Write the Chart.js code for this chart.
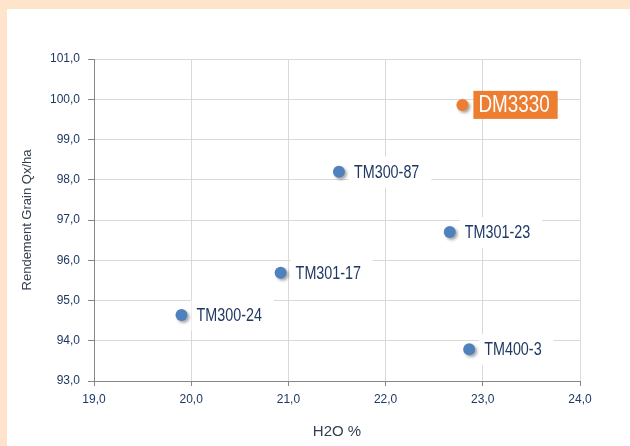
<!DOCTYPE html>
<html lang="fr">
<head>
    <title>Rendement Grain vs H2O</title>
    <meta charset="utf-8">
    <script src="https://cdn.jsdelivr.net/npm/chart.js@4.4.0/dist/chart.umd.js"></script>
    <style>
        html, body { margin: 0; padding: 0; }
        body { width: 630px; height: 446px; background: #fde4cb; position: relative; overflow: hidden; }
        #frame { position: absolute; left: 7px; top: 9px; width: 623px; height: 437px; background: #ffffff; }
    </style>
</head>

<body>
    <div id="frame">
        <canvas id="yieldChart" width="623" height="437"></canvas>
    </div>

    <script>
        // Data
        const varieties = ['TM300-24', 'TM301-17', 'TM300-87', 'TM301-23', 'TM400-3', 'DM3330'];
        const h2o = [19.9, 20.92, 21.52, 22.66, 22.86, 22.79];
        const rendement = [94.64, 95.69, 98.2, 96.7, 93.79, 99.86];
        const highlighted = 'DM3330';

        const xTicks = { min: 19, max: 24, step: 1 };
        const yTicks = { min: 93, max: 101, step: 1 };

        const navy = '#1f3864';
        const comma = v => v.toFixed(1).replace('.', ',');

        // split into normal / highlighted series
        const normal = [], special = [];
        varieties.forEach((name, i) => {
            const pt = { x: h2o[i], y: rendement[i], name: name };
            (name === highlighted ? special : normal).push(pt);
        });

        // shadow under the markers + labels next to them
        const markerDecor = {
            id: 'markerDecor',
            beforeDatasetsDraw(chart) {
                const ctx = chart.ctx;
                ctx.save();
                ctx.shadowColor = 'rgba(0,0,0,0.35)';
                ctx.shadowBlur = 3;
                ctx.shadowOffsetX = 2;
                ctx.shadowOffsetY = 2;
            },
            afterDatasetsDraw(chart) {
                const ctx = chart.ctx;
                ctx.restore();
                chart.data.datasets.forEach((ds, di) => {
                    const meta = chart.getDatasetMeta(di);
                    meta.data.forEach((el, j) => {
                        const name = ds.data[j].name;
                        const hl = name === highlighted;
                        const size = hl ? 23 : 17.5;
                        const sx = 0.82; // narrow look
                        ctx.save();
                        ctx.font = size + 'px "Liberation Sans", Arial, sans-serif';
                        const w = ctx.measureText(name).width * sx;
                        const tx = el.x + (hl ? 16 : 15);
                        const ty = el.y;
                        if (hl) {
                            ctx.fillStyle = '#ed7d31';
                            ctx.fillRect(tx - 5, ty - 14, w + 13, 28);
                        } else {
                            ctx.fillStyle = '#ffffff';
                            ctx.fillRect(tx - 5, ty - 15, w + 17, 31);
                        }
                        ctx.fillStyle = hl ? '#ffffff' : navy;
                        ctx.textBaseline = 'middle';
                        ctx.textAlign = 'left';
                        ctx.translate(tx, ty + 1);
                        ctx.scale(sx, 1);
                        ctx.fillText(name, 0, 0);
                        ctx.restore();
                    });
                });
            }
        };

        const ctx = document.getElementById('yieldChart').getContext('2d');
        new Chart(ctx, {
            type: 'scatter',
            data: {
                datasets: [
                    {
                        label: 'Variétés',
                        data: normal,
                        backgroundColor: '#4f81bd',
                        borderColor: '#4f81bd',
                        pointRadius: 6,
                        borderWidth: 0,
                    },
                    {
                        label: highlighted,
                        data: special,
                        backgroundColor: '#ed7d31',
                        borderColor: '#ed7d31',
                        pointRadius: 6,
                        borderWidth: 0,
                    },
                ],
            },
            options: {
                responsive: false,
                animation: false,
                events: [],
                layout: { padding: { left: 0, top: 50, right: 50, bottom: 0 } },
                plugins: {
                    legend: { display: false },
                    tooltip: { enabled: false },
                },
                scales: {
                    x: {
                        type: 'linear',
                        min: xTicks.min,
                        max: xTicks.max,
                        afterFit: s => { s.height = 65; },
                        border: { color: '#868686', width: 1 },
                        grid: { color: '#d9d9d9', tickColor: '#868686', tickLength: 5 },
                        ticks: {
                            stepSize: xTicks.step,
                            padding: 6,
                            color: navy,
                            font: { family: '"Liberation Sans", Arial, sans-serif', size: 12 },
                            callback: v => comma(v),
                        },
                        title: {
                            display: true,
                            text: 'H2O %',
                            color: '#333f50',
                            font: { family: '"Liberation Sans", Arial, sans-serif', size: 15 },
                            padding: { top: 0, bottom: 5 },
                        },
                    },
                    y: {
                        type: 'linear',
                        min: yTicks.min,
                        max: yTicks.max,
                        afterFit: s => { s.width = 87; },
                        border: { color: '#868686', width: 1 },
                        grid: { color: '#d9d9d9', tickColor: '#868686', tickLength: 6 },
                        ticks: {
                            stepSize: yTicks.step,
                            padding: 8,
                            color: navy,
                            font: { family: '"Liberation Sans", Arial, sans-serif', size: 12 },
                            callback: v => comma(v),
                        },
                        title: {
                            display: true,
                            text: 'Rendement Grain Qx/ha',
                            color: '#333f50',
                            font: { family: '"Liberation Sans", Arial, sans-serif', size: 13 },
                            padding: { top: 13, bottom: 0 },
                        },
                    },
                },
            },
            plugins: [markerDecor],
        });
    </script>
</body>
</html>
